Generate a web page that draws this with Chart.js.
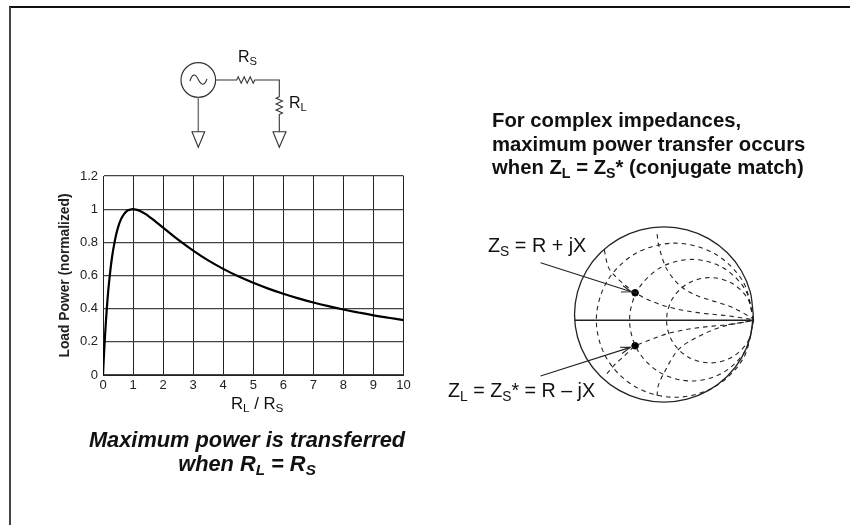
<!DOCTYPE html>
<html><head><meta charset="utf-8">
<script src="https://cdn.jsdelivr.net/npm/chart.js@4"></script>
<style>
html,body{margin:0;padding:0;background:#fff;width:850px;height:525px;overflow:hidden}
body{position:relative;font-family:"Liberation Sans",Arial,sans-serif;color:#111}
canvas{position:absolute}
#border-top{position:absolute;left:9px;top:6px;right:0;height:2px;background:#111}
#border-left{position:absolute;left:9px;top:7px;bottom:0;width:2px;background:#444}
.t{position:absolute;white-space:nowrap;line-height:20px}
.t sub{font-size:70%;vertical-align:-0.28em;line-height:0}
.b{font-weight:bold}.bi{font-weight:bold;font-style:italic}
svg{position:absolute;left:0;top:0}
</style></head><body>
<div id="border-top"></div><div id="border-left"></div>
<div style="position:absolute;left:0;top:0;width:850px;height:525px"><canvas id="plot" width="850" height="525"></canvas></div>
<div style="position:absolute;left:440px;top:210px;width:350px;height:210px"><canvas id="smith" width="350" height="210"></canvas></div>
<svg width="850" height="525" fill="none" stroke="#333" stroke-width="1.1">
<circle cx="198.3" cy="80" r="17.3" stroke-width="1.2"/>
<path d="M190 81C192 74 195 73 198 79S204 87 207 79" />
<path d="M215.7 80H236.7l1.5-3.2 3 6.4 3-6.4 3 6.4 3-6.4 3 6.4 1.5-3.2H279.3V96.7l-3.2 1.5 6.4 2.8-6.4 3 6.4 3-6.4 3 6.4 3-3.2 1.5V131.7" />
<path d="M198.3 97.3V131.7" stroke-width="1.5" stroke="#777"/>
<path d="M192 131.7H204.7L198.3 147.3ZM273 131.7H286L279.3 147.3Z"/>
</svg>
<div class="t" style="left:238px;top:47px;font-size:16px">R<sub>S</sub></div>
<div class="t" style="left:289px;top:93px;font-size:16px">R<sub>L</sub></div>
<div class="t b" style="left:492px;top:109px;font-size:20.3px;line-height:23.5px">For complex impedances,<br>maximum power transfer occurs<br>when Z<sub>L</sub> = Z<sub>S</sub>* (conjugate match)</div>
<div class="t" style="left:488px;top:235px;font-size:19.8px">Z<sub>S</sub> = R + jX</div>
<div class="t" style="left:448px;top:380px;font-size:19.7px">Z<sub>L</sub> = Z<sub>S</sub>* = R – jX</div>
<div class="t" style="left:231px;top:394px;font-size:16.7px">R<sub>L</sub> / R<sub>S</sub></div>
<div class="t bi" style="left:60px;width:374px;text-align:center;top:428px;font-size:21.8px;line-height:24px">Maximum power is transferred<br>when R<sub>L</sub> = R<sub>S</sub></div>
<script>
const ratio = [0,.02,.05,.1,.15,.2,.3,.4,.5,.6,.7,.8,.9,1,1.25,1.5,1.75,2,2.5,3,3.5,4,4.5,5,5.5,6,6.5,7,7.5,8,8.5,9,9.5,10];
const loadPower = [0,.077,.18,.33,.455,.555,.71,.815,.89,.94,.97,.99,.997,1,.988,.96,.925,.889,.816,.75,.691,.64,.595,.556,.521,.49,.462,.437,.415,.395,.377,.36,.345,.331];
const xTickLabels = ['0','1','2','3','4','5','6','7','8','9','10'];
const yTickLabels = ['0','0.2','0.4','0.6','0.8','1','1.2'];
const yAxisTitle = 'Load Power (normalized)';

const smithOuter = [[1,0],[.966,.259],[.866,.5],[.707,.707],[.5,.866],[.259,.966],[0,1],[-.259,.966],[-.5,.866],[-.707,.707],[-.866,.5],[-.966,.259],[-1,0],[-.966,-.259],[-.866,-.5],[-.707,-.707],[-.5,-.866],[-.259,-.966],[0,-1],[.259,-.966],[.5,-.866],[.707,-.707],[.866,-.5],[.966,-.259],[1,0]];
const realAxis = [[-1,-.065],[1.004,-.065]];
const resistanceA = [[1.004,-.065],[.886,.375],[.564,.697],[.124,.815],[-.316,.697],[-.638,.375],[-.756,-.065],[-.638,-.505],[-.316,-.827],[.124,-.945],[.564,-.827],[.886,-.505],[1.004,-.065]];
const resistanceB = [[1.004,-.065],[.911,.282],[.657,.536],[.31,.629],[-.037,.536],[-.291,.282],[-.384,-.065],[-.291,-.412],[-.037,-.666],[.31,-.759],[.657,-.666],[.911,-.412],[1.004,-.065]];
const resistanceC = [[1.004,-.065],[.939,.179],[.761,.357],[.517,.422],[.274,.357],[.095,.179],[.03,-.065],[.095,-.309],[.274,-.487],[.517,-.552],[.761,-.487],[.939,-.309],[1.004,-.065]];
const reactanceUpperA = [[-.667,.737],[-.62,.538],[-.547,.44],[-.438,.339],[-.322,.248],[-.149,.158],[.051,.085],[.359,.024],[.721,-.016],[1.004,-.06]];
const reactanceUpperB = [[-.076,.918],[-.058,.792],[.014,.556],[.105,.411],[.214,.303],[.359,.219],[.54,.158],[.757,.085],[1.004,-.05]];
const reactanceLowerA = [[-.638,-.676],[-.547,-.57],[-.438,-.469],[-.322,-.36],[-.149,-.288],[.051,-.215],[.359,-.154],[.721,-.114],[1.004,-.07]];
const reactanceLowerB = [[-.076,-.929],[-.065,-.82],[-.004,-.676],[.159,-.404],[.359,-.266],[.649,-.14],[1.004,-.067]];
const impedancePoints = [[-.322,.248],[-.322,-.357]];
const arrowUpper = [[-1.38,.592],[-.365,.259]];
const arrowUpperHead = [[-.48,.257],[-.365,.259],[-.457,.328]];
const arrowLower = [[-1.38,-.701],[-.376,-.375]];
const arrowLowerHead = [[-.468,-.445],[-.376,-.375],[-.491,-.373]];

const pts = a => a.map(p => ({x:p[0], y:p[1]}));

new Chart(document.getElementById('plot'), {
  type:'scatter',
  data:{datasets:[{data:ratio.map((x,i)=>({x,y:loadPower[i]})),showLine:true,borderColor:'#000',borderWidth:2.2,pointRadius:0,tension:.4}]},
  options:{
    responsive:false,animation:false,
    layout:{padding:{left:54,top:176,right:446.5,bottom:130}},
    plugins:{legend:{display:false},tooltip:{enabled:false}},
    scales:{
      x:{type:'linear',min:0,max:10,
        afterFit(s){s.height=20},
        afterBuildTicks(s){s.ticks=xTickLabels.map((_,i)=>({value:i}))},
        border:{color:'#222',width:1},
        grid:{color:'#222',lineWidth:1,drawTicks:false},
        ticks:{padding:3,color:'#222',maxRotation:0,autoSkip:false,font:{family:'"Liberation Sans"',size:13},callback:(v)=>xTickLabels[v]}},
      y:{type:'linear',min:0,max:1.2,
        afterFit(s){s.width=49},
        afterBuildTicks(s){s.ticks=yTickLabels.map(l=>({value:+l}))},
        border:{color:'#222',width:1},
        grid:{color:'#444',lineWidth:1.3,drawTicks:false},
        title:{display:true,text:yAxisTitle,color:'#222',padding:{top:3,bottom:0},font:{family:'"Liberation Sans"',size:13.8,weight:'bold'}},
        ticks:{padding:5,color:'#222',autoSkip:false,font:{family:'"Liberation Sans"',size:13},callback:(v)=>yTickLabels[yTickLabels.indexOf(String(+v.toFixed(1)))]}}
    }
  }
});

const dash = a => ({data:pts(a),showLine:true,borderColor:'#222',borderWidth:1.1,borderDash:[4.5,4],pointRadius:0,tension:.33,fill:false});
const solid = (a,w,t=0) => ({data:pts(a),showLine:true,borderColor:'#222',borderWidth:w,pointRadius:0,tension:t,fill:false});
new Chart(document.getElementById('smith'), {
  type:'scatter',
  data:{datasets:[
    solid(smithOuter,1.3,.33),
    solid(realAxis,1.4),
    dash(resistanceA),dash(resistanceB),dash(resistanceC),
    dash(reactanceUpperA),dash(reactanceUpperB),dash(reactanceLowerA),dash(reactanceLowerB),
    solid(arrowUpper,1.1),solid(arrowUpperHead,1.1),solid(arrowLower,1.1),solid(arrowLowerHead,1.1),
    {data:pts(impedancePoints),backgroundColor:'#000',borderColor:'#000',pointRadius:3.3,showLine:false}
  ]},
  options:{
    responsive:false,animation:false,
    layout:{padding:0},
    plugins:{legend:{display:false},tooltip:{enabled:false}},
    scales:{
      x:{type:'linear',display:false,min:-2.449,max:1.355},
      y:{type:'linear',display:false,min:-1.147,max:1.136}
    }
  }
});
</script>
</body></html>
